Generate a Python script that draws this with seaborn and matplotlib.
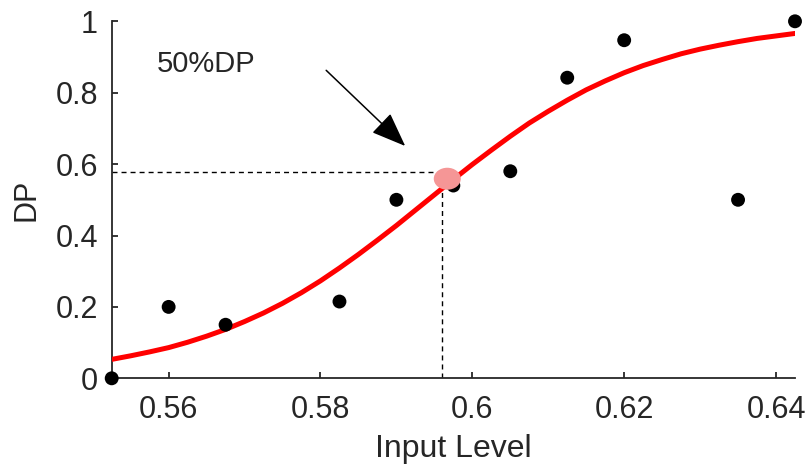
import matplotlib
matplotlib.use("Agg")
import matplotlib.pyplot as plt
import seaborn as sns
import pandas as pd
from matplotlib.patches import Ellipse

# ---- data ----
input_level = [0.5525, 0.56, 0.5675, 0.5825, 0.59, 0.5975, 0.605, 0.6125, 0.62, 0.635, 0.6425]
dp_values   = [0.0,    0.2,  0.15,   0.215,  0.5,  0.54,   0.58,  0.842,  0.947, 0.5,   1.0]

# fitted curve, every 0.0025
fit_x = [0.5525, 0.555, 0.5575, 0.56, 0.5625, 0.565, 0.5675, 0.57, 0.5725, 0.575,
         0.5775, 0.58, 0.5825, 0.585, 0.5875, 0.59, 0.5925, 0.595, 0.5975, 0.60,
         0.6025, 0.605, 0.6075, 0.61, 0.6125, 0.615, 0.6175, 0.62, 0.6225, 0.625,
         0.6275, 0.63, 0.6325, 0.635, 0.6375, 0.64, 0.6425]
fit_y = [0.053, 0.063, 0.074, 0.086, 0.101, 0.118, 0.137, 0.159, 0.183, 0.210,
         0.240, 0.273, 0.309, 0.347, 0.387, 0.428, 0.471, 0.514, 0.557, 0.599,
         0.639, 0.678, 0.715, 0.748, 0.779, 0.808, 0.833, 0.856, 0.876, 0.893,
         0.909, 0.922, 0.933, 0.943, 0.952, 0.959, 0.966]

dp50_x = 0.5967
dp50_y = 0.559
guide_x = 0.596
guide_y = 0.578

x_ticks = [0.56, 0.58, 0.60, 0.62, 0.64]
x_tick_labels = ["0.56", "0.58", "0.6", "0.62", "0.64"]
y_ticks = [0, 0.2, 0.4, 0.6, 0.8, 1.0]
y_tick_labels = ["0", "0.2", "0.4", "0.6", "0.8", "1"]

annot_text = "50%DP"
arrow_tail = (0.58075, 0.8627)
arrow_tip = (0.59116, 0.6507)

# ---- style ----
sns.set_style("ticks")
plt.rcParams["font.family"] = ["Liberation Sans", "DejaVu Sans"]
dark = "#262626"

W, H = 809, 465
fig = plt.figure(figsize=(W / 100, H / 100), dpi=100)
ax = fig.add_axes([111.7 / W, 1 - 378.3 / H, (795 - 111.7) / W, (378.3 - 21.3) / H])

points = pd.DataFrame({"Input Level": input_level, "DP": dp_values})
fit = pd.DataFrame({"x": fit_x, "y": fit_y})

# guide lines
ax.plot([0.5525, guide_x], [guide_y, guide_y], color="black", lw=1.0,
        dashes=(3.6, 2.9), zorder=2)
ax.plot([guide_x, guide_x], [0, guide_y], color="black", lw=1.0,
        dashes=(3.6, 2.9), zorder=2)

sns.lineplot(data=fit, x="x", y="y", ax=ax, color="#FF0000", lw=3.6,
             estimator=None, sort=True, zorder=3, legend=False)
for ln in ax.get_lines():
    ln.set_solid_joinstyle("round")
sns.scatterplot(data=points, x="Input Level", y="DP", ax=ax, color="black",
                s=100, edgecolor="none", zorder=4, clip_on=False, legend=False)

ax.add_patch(Ellipse((dp50_x, dp50_y), width=0.00356, height=0.0616,
                     facecolor="#F59696", edgecolor="none", zorder=5))

ax.annotate("", xy=arrow_tip, xytext=arrow_tail,
            arrowprops=dict(arrowstyle="-|>,head_length=1.08,head_width=0.42",
                            mutation_scale=20, color="black", lw=1.1,
                            shrinkA=0, shrinkB=0), zorder=6)
ax.text(0.55845, 0.8587, annot_text, fontsize=21, color=dark,
        ha="left", va="baseline")

ax.set_xlim(0.5525, 0.6425)
ax.set_ylim(0, 1)
ax.set_xticks(x_ticks)
ax.set_xticklabels(x_tick_labels)
ax.set_yticks(y_ticks)
ax.set_yticklabels(y_tick_labels)

for side in ["top", "right"]:
    ax.spines[side].set_visible(False)
for side in ["left", "bottom"]:
    ax.spines[side].set_color(dark)
    ax.spines[side].set_linewidth(1.3)

ax.tick_params(axis="both", direction="in", length=4.3, width=1.3,
               colors=dark, labelsize=22)
ax.tick_params(axis="x", pad=12)
ax.tick_params(axis="y", pad=10)

ax.set_xlabel("Input Level", fontsize=23, color=dark)
ax.set_ylabel("DP", fontsize=22, color=dark)
ax.xaxis.set_label_coords(0.5, -0.157)
ax.yaxis.set_label_coords(-0.103, 0.5)

fig.savefig("out.png", dpi=100)
